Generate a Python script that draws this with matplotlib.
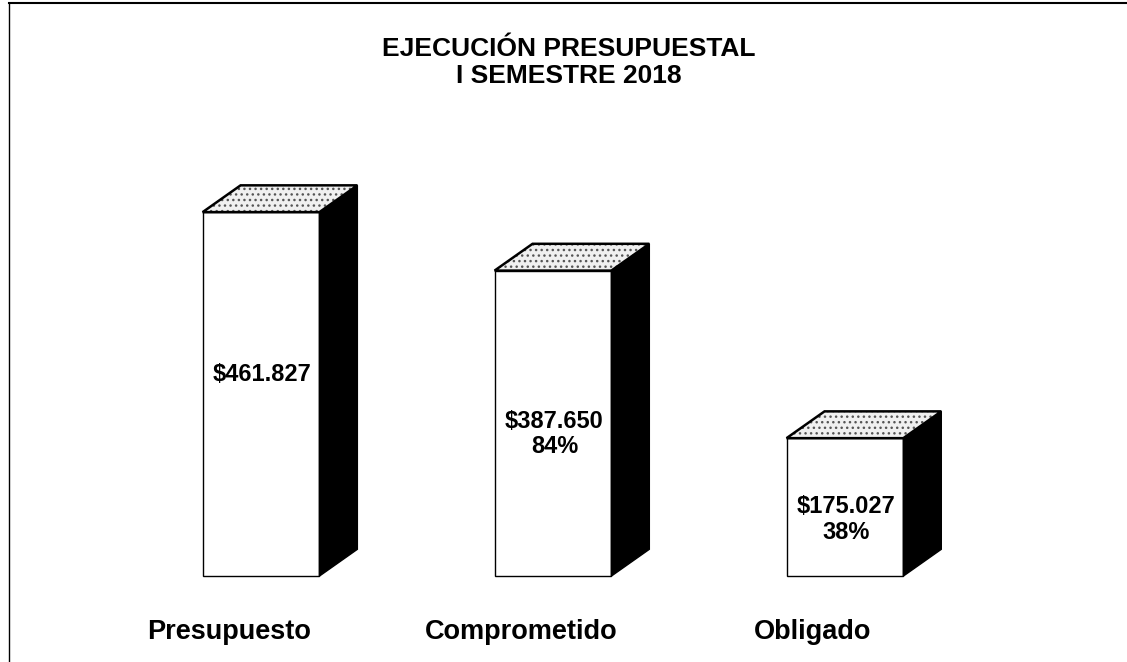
import matplotlib
matplotlib.use("Agg")
import matplotlib.pyplot as plt
from matplotlib.patches import Polygon
from matplotlib.lines import Line2D

plt.rcParams["font.family"] = ["Liberation Sans", "DejaVu Sans"]

# data
categories = ["Presupuesto", "Comprometido", "Obligado"]
values = [461.827, 387.650, 175.027]
value_labels = ["$461.827", "$387.650\n84%", "$175.027\n38%"]

# where each label sits inside its bar (fraction of bar height)
label_frac = [0.555, 0.465, 0.41]

fig = plt.figure(figsize=(11.27, 6.62), dpi=100)
ax = fig.add_axes([0, 0, 1, 1])
ax.set_xlim(-0.894, 2.966)
ax.set_ylim(-109, 731)
ax.axis("off")

w = 0.4      # front face width
dx = 0.13    # depth offset (x)
dy = 34      # depth offset (y)

for i, (v, lab) in enumerate(zip(values, value_labels)):
    x0, x1 = i - w / 2, i + w / 2
    # front face
    ax.add_patch(Polygon([(x0, 0), (x1, 0), (x1, v), (x0, v)],
                         closed=True, facecolor="white", edgecolor="black",
                         linewidth=1.0, zorder=2))
    # side face
    ax.add_patch(Polygon([(x1, 0), (x1 + dx, dy), (x1 + dx, v + dy), (x1, v)],
                         closed=True, facecolor="black", edgecolor="black",
                         linewidth=1.0, zorder=2))
    # top face (speckled)
    top = [(x0, v), (x1, v), (x1 + dx, v + dy), (x0 + dx, v + dy)]
    ax.add_patch(Polygon(top, closed=True, facecolor="#f0f0f0",
                         edgecolor="#555555", hatch="...", linewidth=0, zorder=2))
    ax.add_patch(Polygon(top, closed=True, facecolor="none", edgecolor="black",
                         linewidth=1.8, zorder=2))
    ax.text(i + 0.005, v * label_frac[i], lab, ha="center", va="center",
            fontsize=17, fontweight="bold", linespacing=1.15, zorder=3)
    ax.text(i - 0.11, -71, categories[i], ha="center", va="center",
            fontsize=19.5, fontweight="bold")

fig.text(0.505, 0.926, "EJECUCIÓN PRESUPUESTAL", ha="center", va="center",
         fontsize=19, fontweight="bold")
fig.text(0.505, 0.885, "I SEMESTRE 2018", ha="center", va="center",
         fontsize=19, fontweight="bold")

# frame lines (top and left)
fig.add_artist(Line2D([0.008, 1.0], [0.995, 0.995], color="black", linewidth=1.5,
                      transform=fig.transFigure))
fig.add_artist(Line2D([0.008, 0.008], [0.0, 0.995], color="black", linewidth=1.0,
                      transform=fig.transFigure))

fig.savefig("out.png", dpi=100)
